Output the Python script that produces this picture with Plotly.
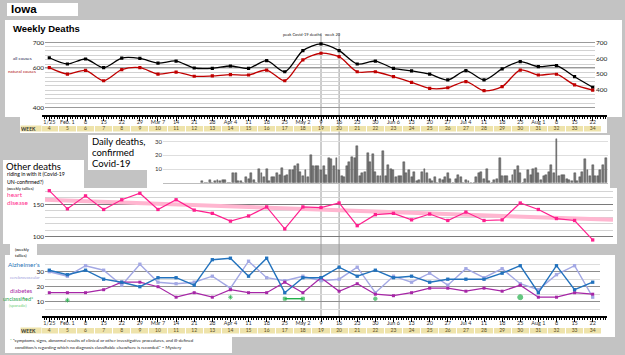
import plotly.graph_objects as go
import pandas as pd

W, H = 625, 355

# ---------------- data ----------------
week_dates = pd.date_range("2020-01-25", "2020-08-22", freq="7D")
week_numbers = list(range(4, 35))
date_labels = ["1/25", "Feb. 1", "8", "15", "22", "29", "Mar 7", "14", "21", "28",
               "Apr 4", "11", "18", "25", "May 2", "9", "16", "23", "30", "Jun 6",
               "13", "20", "27", "Jul 4", "11", "18", "25", "Aug 1", "8", "15", "22"]

all_causes = [603, 563, 595, 539, 601, 599, 569, 582, 537, 535, 550, 535, 584, 513, 649, 692,
              649, 563, 582, 535, 519, 498, 460, 520, 460, 531, 578, 546, 552, 481, 413]
natural_causes = [539, 498, 522, 455, 526, 539, 498, 511, 484, 486, 494, 492, 524, 455, 589, 632,
                  610, 513, 513, 481, 445, 406, 410, 449, 391, 417, 524, 492, 497, 428, 395]

daily_start = "2020-03-24"
daily_confirmed = [1, 0, 0, 2, 0, 1, 2, 1, 2, 2, 0, 0, 7, 7, 1, 1, 0, 4, 3, 7, 2, 0,
                   10, 7, 4, 10, 1, 4, 4, 7, 6, 11, 5, 6, 9, 9, 12, 14, 8, 5, 9, 4,
                   20, 12, 12, 12, 9, 12, 6, 18, 17, 12, 18, 9, 5, 4, 12, 15, 19, 18, 27, 5,
                   7, 8, 22, 15, 21, 8, 5, 5, 23, 5, 13, 10, 9, 4, 5,
                   5, 15, 7, 9, 4, 8, 1, 2, 8, 10, 7, 3, 1, 4, 0, 3, 2, 4, 7, 3, 0, 3, 6, 4,
                   0, 2, 1, 0, 0, 4, 7, 8, 3, 10, 1, 0, 2, 3, 18, 5, 5, 5, 1, 6, 9, 12, 7,
                   0, 3, 9, 6, 10, 11, 7, 2, 5, 6, 8, 13, 7, 32, 5, 6, 6, 3, 2, 1, 7, 1, 4,
                   8, 17, 9, 5, 13, 5, 5, 9, 13, 18]

heart_disease = [171, 143, 163, 142, 157, 167, 142, 157, 141, 136, 124, 132, 146, 112, 146, 145,
                 152, 117, 134, 136, 126, 135, 125, 138, 125, 126, 152, 142, 128, 125, 95]
heart_trend_ends = [157, 126]

alzheimers = [31, 28, 31, 25, 23, 20, 26, 26, 21, 38, 39, 27, 39, 16, 26, 26,
              33, 27, 31, 26, 27, 23, 25, 25, 25, 29, 34, 16, 34, 18, 23]
cerebrovascular = [30, 27, 34, 31, 21, 35, 23, 22, 23, 27, 19, 37, 26, 24, 27, 24,
                   25, 33, 16, 27, 23, 29, 21, 32, 26, 32, 22, 18, 28, 34, 13]
diabetes = [16, 16, 16, 18, 23, 23, 20, 13, 16, 13, 18, 16, 16, 23, 16, 26,
            17, 22, 15, 14, 16, 19, 19, 17, 19, 17, 21, 13, 13, 16, 15]
unclassified = [None, 11, None, None, None, None, None, None, None, None, 13, None, None, 12, 12, None,
                None, None, 12, None, None, None, None, None, None, None, 13, None, None, None, None]
unclassified_symbols = ["square", "asterisk-open", "square", "square", "square", "square", "square", "square",
                        "square", "square", "asterisk-open", "square", "square", "square", "square", "square",
                        "square", "square", "circle", "square", "square", "square", "square", "square",
                        "square", "square", "circle", "square", "square", "square", "square"]
unclassified_sizes = [3, 4, 3, 3, 3, 3, 3, 3, 3, 3, 4, 3, 3, 3, 3, 3,
                      3, 3, 3.5, 3, 3, 3, 3, 3, 3, 3, 5, 3, 3, 3, 3]

peak_weeks = ["2020-05-09", "2020-05-16"]

# ---------------- geometry helpers ----------------
t0 = week_dates[0]
week_days = [(d - t0).days for d in week_dates]
daily_days = [(pd.Timestamp(daily_start) - t0).days + i for i in range(len(daily_confirmed))]
peak_days = [(pd.Timestamp(d) - t0).days for d in peak_weeks]

X0, K = 49.3, 2.5876  # px of first week, px per day


def xr(p0, p1):
    return [(p0 - X0) / K, (p1 - X0) / K]


def xd(p0, p1):
    return [p0 / W, p1 / W]


def yd(ptop, pbot):
    return [1 - pbot / H, 1 - ptop / H]


def lin_range(ptop, pbot, vref, yref, ppu):
    return [vref - (pbot - yref) / ppu, vref + (yref - ptop) / ppu]


FONT = "Lato, 'Liberation Sans', sans-serif"
TAN = "#eee3ab"

fig = go.Figure()

# ---------- top panel ----------
fig.add_trace(go.Scatter(x=week_days, y=all_causes, xaxis="x", yaxis="y", mode="lines+markers",
                         line=dict(color="#000000", width=1.3, shape="spline", smoothing=0.8),
                         marker=dict(symbol="square", size=3.2, color="#000000")))
fig.add_trace(go.Scatter(x=week_days, y=natural_causes, xaxis="x", yaxis="y", mode="lines+markers",
                         line=dict(color="#c00000", width=1.3, shape="spline", smoothing=0.8),
                         marker=dict(symbol="square", size=3.2, color="#c00000")))
for ya in ["y2", "y3"]:
    fig.add_trace(go.Scatter(x=[None], y=[None], xaxis="x", yaxis=ya, mode="markers", hoverinfo="skip"))

# week rows
for xa, ya in [("x2", "y4"), ("x6", "y10")]:
    fig.add_trace(go.Bar(x=week_days, y=[1] * len(week_days), xaxis=xa, yaxis=ya, width=6.6,
                         marker=dict(color=TAN, line=dict(width=0)), hoverinfo="skip"))
    fig.add_trace(go.Scatter(x=week_days, y=[0.5] * len(week_days), xaxis=xa, yaxis=ya, mode="text",
                             text=[str(n) for n in week_numbers],
                             textfont=dict(size=5, color="#5a4e26", family=FONT), hoverinfo="skip"))

# ---------- daily panel ----------
fig.add_trace(go.Bar(x=daily_days, y=daily_confirmed, xaxis="x3", yaxis="y5", width=0.75,
                     marker=dict(color="#7a7a7a", line=dict(color="#3a3a3a", width=0.4))))

# ---------- heart panel ----------
hr = xr(45, 613)
fig.add_trace(go.Scatter(x=hr, y=heart_trend_ends, xaxis="x4", yaxis="y6", mode="lines",
                         line=dict(color="#ffb6d0", width=4), hoverinfo="skip"))
fig.add_trace(go.Scatter(x=week_days, y=heart_disease, xaxis="x4", yaxis="y6", mode="lines+markers",
                         line=dict(color="#ff1f8e", width=1.2),
                         marker=dict(symbol="square", size=3.3, color="#ff1f8e")))
fig.add_trace(go.Scatter(x=[None], y=[None], xaxis="x4", yaxis="y7", mode="markers", hoverinfo="skip"))

# ---------- bottom panel ----------
fig.add_trace(go.Scatter(x=week_days, y=cerebrovascular, xaxis="x5", yaxis="y8", mode="lines+markers",
                         line=dict(color="#a3a8e4", width=1.4),
                         marker=dict(symbol="square", size=3.3, color="#a3a8e4")))
fig.add_trace(go.Scatter(x=week_days, y=diabetes, xaxis="x5", yaxis="y8", mode="lines+markers",
                         line=dict(color="#a626a6", width=1.2),
                         marker=dict(symbol="square", size=3, color="#a626a6")))
fig.add_trace(go.Scatter(x=week_days, y=alzheimers, xaxis="x5", yaxis="y8", mode="lines+markers",
                         line=dict(color="#2272bd", width=1.4),
                         marker=dict(symbol="square", size=3.3, color="#2272bd")))
fig.add_trace(go.Scatter(x=week_days, y=unclassified, xaxis="x5", yaxis="y8", mode="lines+markers",
                         connectgaps=False, line=dict(color="#22b04a", width=1.4),
                         marker=dict(symbol=unclassified_symbols, size=unclassified_sizes, color="#22b04a",
                                     line=dict(color="#22b04a", width=1))))
fig.add_trace(go.Scatter(x=[None], y=[None], xaxis="x5", yaxis="y9", mode="markers", hoverinfo="skip"))

# ---------------- axes ----------------
hidden = dict(showgrid=False, showticklabels=False, zeroline=False, showline=False, ticks="")
top_left_range = lin_range(37.7, 111.7, 700, 42.3, 0.217)
bottom_range = lin_range(256, 312, 30, 271.7, 1.5)

tick_axis = dict(tickmode="array", tickvals=week_days, ticktext=date_labels, ticks="outside", ticklen=4,
                 tickwidth=1, tickcolor="#000", showline=True, linecolor="#000", linewidth=1.5,
                 tickfont=dict(size=5.5, color="#333", family=FONT), showgrid=False, zeroline=False,
                 ticklabelstandoff=-3,
                 minor=dict(dtick=1, tick0=0, ticklen=2, tickcolor="#000", ticks="outside", showgrid=False),
                 anchor="free", side="bottom", domain=xd(42, 607), range=xr(42, 607))

fig.update_layout(
    xaxis=dict(domain=xd(45, 595), range=xr(45, 595), anchor="y", **hidden),
    yaxis=dict(domain=yd(37.7, 111.7), range=lin_range(37.7, 111.7, 700, 42.7, 0.1553), side="right",
               anchor="x", tickvals=[400, 500, 600, 700], showgrid=False, zeroline=False, ticks="",
               tickfont=dict(size=6.5, color="#222", family=FONT)),
    yaxis2=dict(overlaying="y", range=top_left_range, side="left", dtick=20, tick0=0, showticklabels=False,
                gridcolor="#d2d2d2", gridwidth=1, zeroline=False, ticks=""),
    yaxis3=dict(overlaying="y", range=top_left_range, side="left", tickvals=[700, 583, 400],
                ticktext=["700", "600", "400"], gridcolor="#9a9a9a", gridwidth=1, zeroline=False, ticks="",
                tickfont=dict(size=6.5, color="#222", family=FONT)),
    xaxis2=dict(position=1 - 116 / H, **tick_axis),
    yaxis4=dict(domain=yd(125.5, 131.5), range=[0, 1], anchor="x2", visible=False),
    xaxis3=dict(domain=xd(163, 608), range=xr(163, 608), anchor="y5", showgrid=False, showticklabels=False,
                zeroline=False, showline=True, linecolor="#bdbdbd", ticks=""),
    yaxis5=dict(domain=yd(137, 182.7), range=[0, (182.7 - 137) / 1.367], anchor="x3", tickvals=[10, 20, 30],
                gridcolor="#dedede", zeroline=False, ticks="", tickfont=dict(size=6, color="#333", family=FONT)),
    xaxis4=dict(domain=xd(45, 613), range=hr, anchor="y6", **hidden),
    yaxis6=dict(domain=yd(187, 243), range=lin_range(187, 243, 150, 204.3, 0.648), anchor="x4", dtick=10,
                tick0=0, showticklabels=False, gridcolor="#d4d4d4", zeroline=False, ticks=""),
    yaxis7=dict(overlaying="y6", range=lin_range(187, 243, 150, 204.3, 0.648), tickvals=[100, 150],
                gridcolor="#7a7a7a", gridwidth=1.2, zeroline=False, ticks="",
                tickfont=dict(size=6.5, color="#222", family=FONT)),
    xaxis5=dict(domain=xd(45, 600), range=xr(45, 600), anchor="y8", **hidden),
    yaxis8=dict(domain=yd(256, 312), range=bottom_range, anchor="x5", tickvals=[5, 15, 25, 35],
                showticklabels=False, gridcolor="#dcdcdc", zeroline=False, ticks=""),
    yaxis9=dict(overlaying="y8", range=bottom_range, tickvals=[10, 20, 30],
                gridcolor="#8e8e8e", gridwidth=1, zeroline=False, ticks="",
                tickfont=dict(size=6.5, color="#222", family=FONT)),
    xaxis6=dict(position=1 - 317 / H, **tick_axis),
    yaxis10=dict(domain=yd(327.5, 333.5), range=[0, 1], anchor="x6", visible=False),
)

# ---------------- backgrounds ----------------
def rect(x0, y0, x1, y1, color="#ffffff"):
    return dict(type="rect", xref="paper", yref="paper", x0=x0 / W, x1=x1 / W, y0=1 - y1 / H, y1=1 - y0 / H,
                fillcolor=color, line=dict(width=0), layer="below")


shapes = [
    rect(7, 3, 78, 16),
    rect(5, 20, 622, 117),
    rect(20, 117, 607, 133),
    rect(88, 135, 147, 170),
    rect(147, 135, 610, 188),
    rect(3, 160, 84, 190),
    rect(3, 188, 617, 244),
    rect(10, 244, 37, 258),
    rect(5, 255, 615, 337),
    rect(5, 337, 232, 353),
]
for d in peak_days:
    shapes.append(dict(type="line", xref="x", yref="paper", x0=d, x1=d, y0=1 - 318 / H, y1=1 - 33 / H,
                       line=dict(color="#9c9c9c", width=1), layer="below"))


def ann(text, x, y, size, color="#000", xanchor="left", **kw):
    d = dict(text=text, x=x / W, y=1 - y / H, xref="paper", yref="paper", xanchor=xanchor, yanchor="middle",
             showarrow=False, font=dict(size=size, color=color, family=kw.pop("family", FONT)), align="left")
    d.update(kw)
    return d


ARIAL = "'Liberation Sans', Arial, sans-serif"
annotations = [
    ann("<b>Iowa</b>", 9, 9.5, 11.5, family=ARIAL),
    ann("<b>Weekly Deaths</b>", 11, 28, 9.5, family=ARIAL),
    ann("all causes", 10.5, 58, 4.5, "#1c2652"),
    ann("natural causes", 6, 72, 4.5, "#b01010"),
    ann("peak Covid-19 deaths", 281, 34.3, 4, "#222"),
    ann("week 20", 322.5, 34.3, 4, "#222"),
    ann("Daily deaths,", 89.5, 141.7, 9.5),
    ann("confirmed", 89.5, 152.7, 9.5),
    ann("Covid-19", 89.5, 163.5, 9.5),
    ann("Other deaths", 4, 166, 9.5),
    ann("riding in with it (Covid-19", 4.5, 174.3, 5.2),
    ann("UN-confirmed?)", 4.5, 181.8, 5.2),
    ann("(weekly tallies)", 4.5, 188, 4.2),
    ann("heart", 4.5, 194, 6.5, "#ff2d8e"),
    ann("disease", 4.5, 202, 6.5, "#ff2d8e"),
    ann("(weekly", 12.5, 250, 4.2),
    ann("tallies)", 12.5, 255.5, 4.2),
    ann("Alzheimer's", 42, 264, 6.3, "#2e75b6", xanchor="right"),
    ann("cerebrovascular", 42, 277.7, 4.3, "#9fa3de", xanchor="right"),
    ann("diabetes", 35, 290.3, 6, "#a626a6", xanchor="right"),
    ann("unclassified*", 35, 298.9, 5.5, "#1fa54a", xanchor="right"),
    ann("(sporadic)", 7, 305.6, 4.2, "#6fcf78"),
    ann("<span style='color:#22b04a'>*</span> \"symptoms, signs, abnormal results of clinical or other investigative "
        "procedures, and ill-defined", 7.5, 340.7, 4.4, "#222"),
    ann("condition/s regarding which no diagnosis classifiable elsewhere is recorded.\" ~ Mystery",
        12.5, 347.3, 4.4, "#222"),
]
for yy in [128.5, 330.5]:
    annotations.append(ann("<b>WEEK</b>", 20, yy, 5, "#333", bgcolor=TAN, width=20, height=5, borderpad=0))

fig.update_layout(
    width=W, height=H, margin=dict(l=0, r=0, t=0, b=0),
    paper_bgcolor="#c3c3c3", plot_bgcolor="rgba(0,0,0,0)", showlegend=False,
    font=dict(family=FONT, size=7, color="#222"),
    shapes=shapes, annotations=annotations, bargap=0,
)

fig.write_html("out.html", config={"displayModeBar": False},
               post_script="document.body.style.margin='0px';document.body.style.background='#c3c3c3';")
